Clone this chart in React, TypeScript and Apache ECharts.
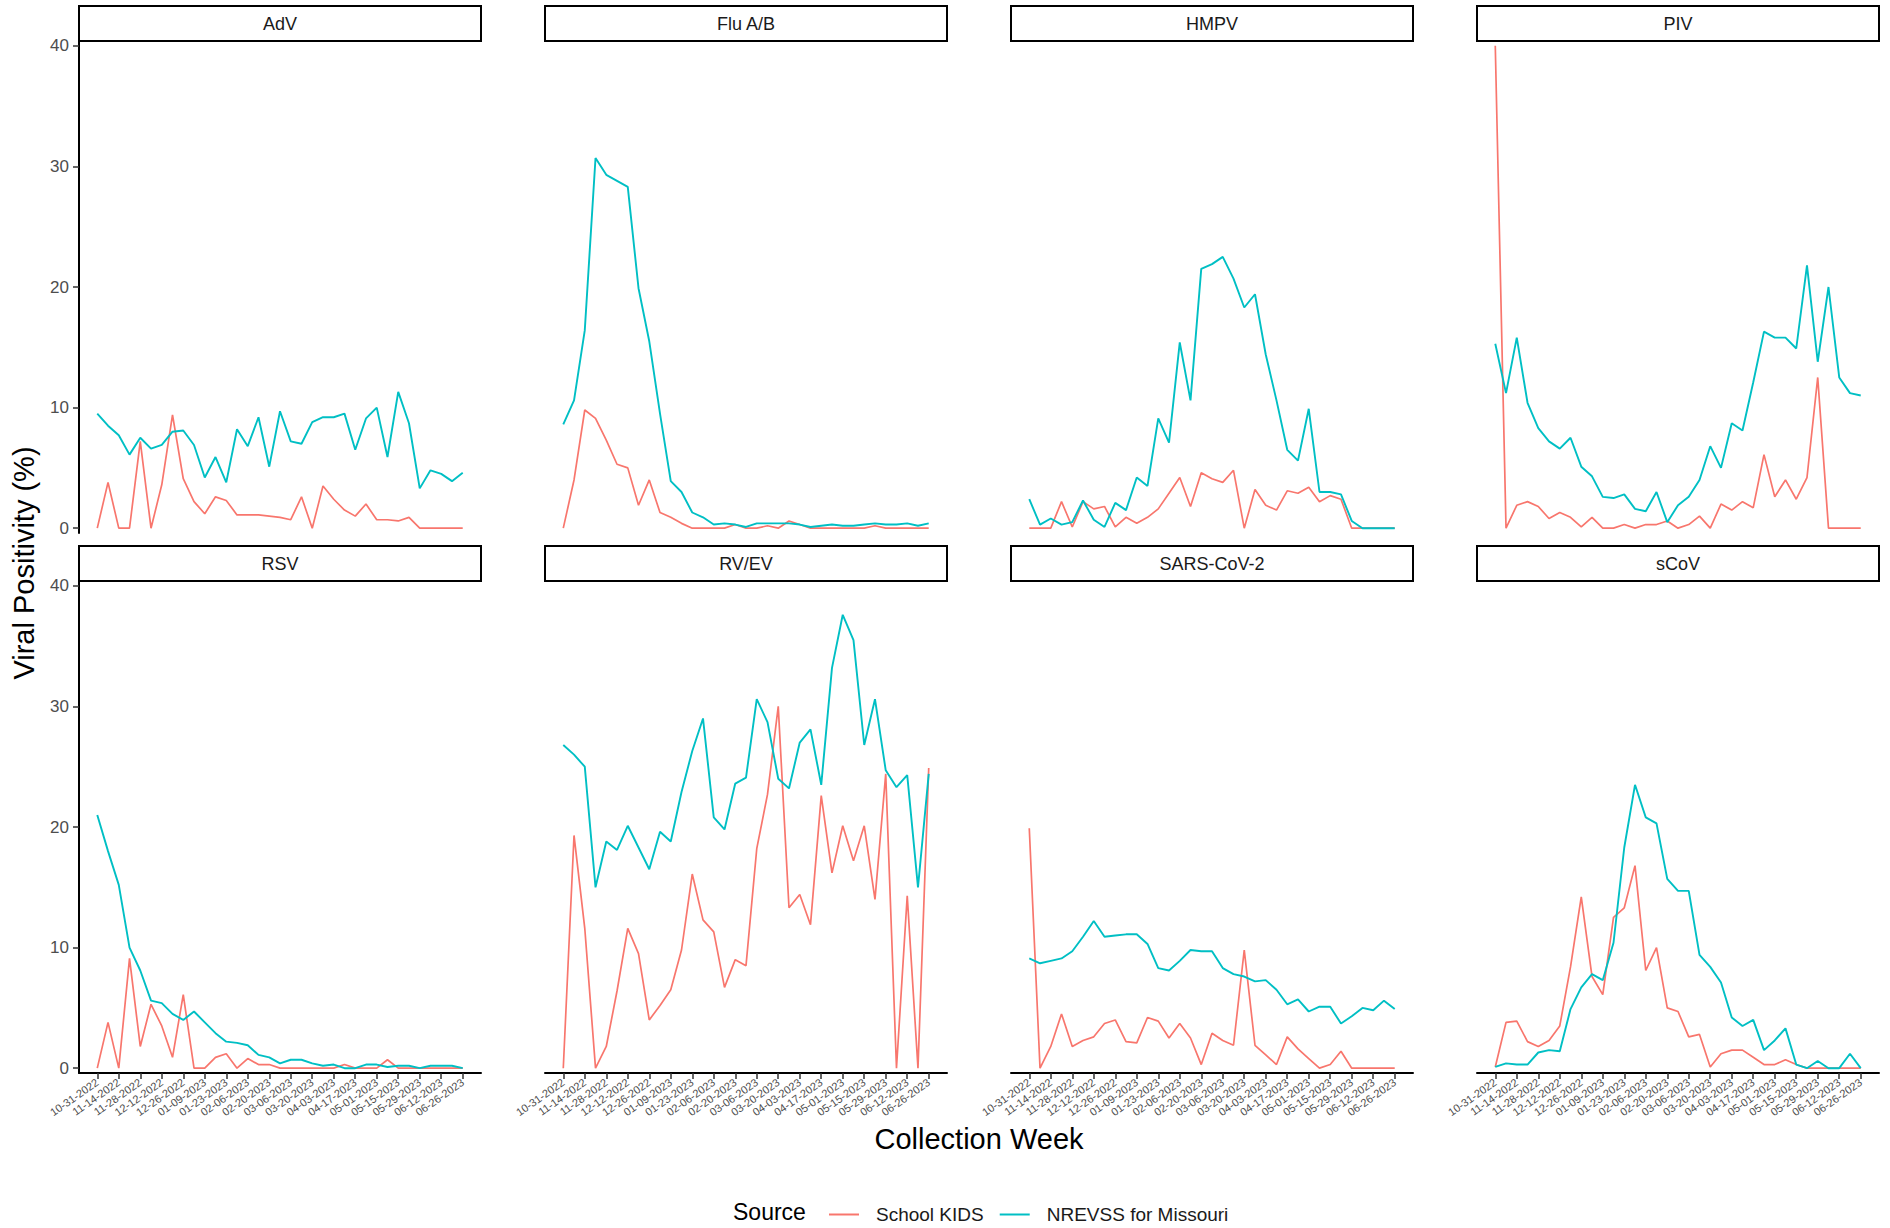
import React, { useEffect, useRef } from "react";
import * as echarts from "echarts";

const weeks = [
  "10-31-2022", "11-07-2022", "11-14-2022", "11-21-2022", "11-28-2022", "12-05-2022", "12-12-2022",
  "12-19-2022", "12-26-2022", "01-02-2023", "01-09-2023", "01-16-2023", "01-23-2023", "01-30-2023",
  "02-06-2023", "02-13-2023", "02-20-2023", "02-27-2023", "03-06-2023", "03-13-2023", "03-20-2023",
  "03-27-2023", "04-03-2023", "04-10-2023", "04-17-2023", "04-24-2023", "05-01-2023", "05-08-2023",
  "05-15-2023", "05-22-2023", "05-29-2023", "06-05-2023", "06-12-2023", "06-19-2023", "06-26-2023",
];
const tickIndex = [0, 2, 4, 6, 8, 10, 12, 14, 16, 18, 20, 22, 24, 26, 28, 30, 32, 34];
const yTicks = [0, 10, 20, 30, 40];

const viruses = ["AdV", "Flu A/B", "HMPV", "PIV", "RSV", "RV/EV", "SARS-CoV-2", "sCoV"];
const sourceNames = ["School KIDS", "NREVSS for Missouri"];

const kidsAdV = [0, 3.8, 0, 0, 7.2, 0, 3.6, 9.4, 4.1, 2.2, 1.2, 2.6, 2.3, 1.1, 1.1, 1.1, 1.0, 0.9, 0.7, 2.6, 0, 3.5, 2.4, 1.5, 1.0, 2.0, 0.7, 0.7, 0.6, 0.9, 0, 0, 0, 0, 0];
const nrevssAdV = [9.5, 8.5, 7.7, 6.1, 7.5, 6.6, 6.9, 8.0, 8.1, 6.9, 4.2, 5.9, 3.8, 8.2, 6.8, 9.2, 5.1, 9.7, 7.2, 7.0, 8.8, 9.2, 9.2, 9.5, 6.5, 9.1, 10.0, 5.9, 11.3, 8.7, 3.3, 4.8, 4.5, 3.9, 4.6];

const kidsFlu = [0, 4.0, 9.8, 9.1, 7.3, 5.3, 5.0, 1.9, 4.0, 1.3, 0.9, 0.4, 0, 0, 0, 0, 0.3, 0, 0, 0.2, 0, 0.6, 0.3, 0, 0, 0, 0, 0, 0, 0.2, 0, 0, 0, 0, 0];
const nrevssFlu = [8.6, 10.6, 16.4, 30.7, 29.3, 28.8, 28.3, 19.9, 15.5, 9.5, 3.9, 3.0, 1.3, 0.9, 0.3, 0.4, 0.3, 0.1, 0.4, 0.4, 0.4, 0.4, 0.3, 0.1, 0.2, 0.3, 0.2, 0.2, 0.3, 0.4, 0.3, 0.3, 0.4, 0.2, 0.4];

const kidsHMPV = [0, 0, 0, 2.2, 0.1, 2.2, 1.6, 1.8, 0.1, 0.9, 0.4, 0.9, 1.6, 2.9, 4.2, 1.8, 4.6, 4.1, 3.8, 4.8, 0, 3.2, 1.9, 1.5, 3.1, 2.9, 3.4, 2.2, 2.7, 2.4, 0, 0, 0, 0, 0];
const nrevssHMPV = [2.4, 0.3, 0.8, 0.3, 0.5, 2.3, 0.7, 0.1, 2.1, 1.5, 4.2, 3.5, 9.1, 7.1, 15.4, 10.6, 21.5, 21.9, 22.5, 20.7, 18.3, 19.4, 14.4, 10.6, 6.5, 5.6, 9.9, 3.0, 3.0, 2.8, 0.6, 0, 0, 0, 0];

const kidsPIV = [40, 0, 1.9, 2.2, 1.8, 0.8, 1.3, 0.9, 0.1, 0.9, 0, 0, 0.3, 0, 0.3, 0.3, 0.6, 0, 0.3, 1.0, 0, 2.0, 1.5, 2.2, 1.7, 6.1, 2.6, 4.0, 2.4, 4.2, 12.5, 0, 0, 0, 0];
const nrevssPIV = [15.3, 11.2, 15.8, 10.4, 8.3, 7.2, 6.6, 7.5, 5.1, 4.3, 2.6, 2.5, 2.8, 1.6, 1.4, 3.0, 0.5, 1.9, 2.6, 4.0, 6.8, 5.0, 8.7, 8.1, 12.1, 16.3, 15.8, 15.8, 14.9, 21.8, 13.8, 20.0, 12.5, 11.2, 11.0];

const kidsRSV = [0, 3.8, 0, 9.1, 1.8, 5.3, 3.5, 0.9, 6.1, 0, 0, 0.9, 1.2, 0, 0.8, 0.3, 0.3, 0, 0, 0, 0, 0, 0, 0.3, 0, 0, 0, 0.7, 0, 0, 0, 0, 0, 0, 0];
const nrevssRSV = [21.0, 18.0, 15.2, 10.0, 8.1, 5.6, 5.4, 4.5, 4.0, 4.7, 3.8, 2.9, 2.2, 2.1, 1.9, 1.1, 0.9, 0.4, 0.7, 0.7, 0.4, 0.2, 0.3, 0, 0, 0.3, 0.3, 0.1, 0.2, 0.2, 0, 0.2, 0.2, 0.2, 0];

const kidsRVEV = [0, 19.3, 11.6, 0, 1.8, 6.4, 11.6, 9.5, 4.0, 5.2, 6.5, 9.8, 16.1, 12.3, 11.3, 6.7, 9.0, 8.5, 18.2, 22.7, 30.0, 13.3, 14.4, 11.9, 22.6, 16.2, 20.1, 17.2, 20.1, 14.0, 24.4, 0, 14.3, 0, 24.9];
const nrevssRVEV = [26.8, 26.0, 25.0, 15.0, 18.8, 18.1, 20.1, 18.3, 16.5, 19.6, 18.8, 22.9, 26.3, 29.0, 20.8, 19.8, 23.6, 24.1, 30.6, 28.7, 24.0, 23.2, 27.0, 28.1, 23.5, 33.2, 37.6, 35.5, 26.8, 30.6, 24.7, 23.3, 24.3, 15.0, 24.4];

const kidsSARS = [19.9, 0, 1.8, 4.5, 1.8, 2.3, 2.6, 3.7, 4.0, 2.2, 2.1, 4.2, 3.9, 2.5, 3.7, 2.5, 0.3, 2.9, 2.3, 1.9, 9.8, 1.9, 1.1, 0.3, 2.6, 1.6, 0.8, 0, 0.3, 1.4, 0, 0, 0, 0, 0];
const nrevssSARS = [9.1, 8.7, 8.9, 9.1, 9.7, 10.9, 12.2, 10.9, 11.0, 11.1, 11.1, 10.3, 8.3, 8.1, 8.9, 9.8, 9.7, 9.7, 8.3, 7.8, 7.6, 7.2, 7.3, 6.5, 5.3, 5.7, 4.7, 5.1, 5.1, 3.7, 4.3, 5.0, 4.8, 5.6, 4.9];

const kidsSCoV = [0.1, 3.8, 3.9, 2.2, 1.8, 2.3, 3.5, 8.4, 14.2, 7.6, 6.1, 12.5, 13.3, 16.8, 8.1, 10.0, 5.0, 4.7, 2.6, 2.8, 0.1, 1.2, 1.5, 1.5, 0.9, 0.3, 0.3, 0.7, 0.3, 0, 0, 0, 0, 0, 0];
const nrevssSCoV = [0.1, 0.4, 0.3, 0.3, 1.3, 1.5, 1.4, 4.9, 6.7, 7.8, 7.3, 10.4, 18.3, 23.5, 20.8, 20.3, 15.7, 14.7, 14.7, 9.4, 8.4, 7.1, 4.2, 3.5, 4.0, 1.5, 2.3, 3.3, 0.3, 0, 0.6, 0, 0, 1.2, 0];

const kidsSeries = [kidsAdV, kidsFlu, kidsHMPV, kidsPIV, kidsRSV, kidsRVEV, kidsSARS, kidsSCoV];
const nrevssSeries = [nrevssAdV, nrevssFlu, nrevssHMPV, nrevssPIV, nrevssRSV, nrevssRVEV, nrevssSARS, nrevssSCoV];

const RED = "#F8766D";
const TEAL = "#00BFC4";
const FONT = "'Liberation Sans', Arial, Helvetica, sans-serif";

const colLeft = [79, 545, 1011, 1477];
const rowTop = [41, 581];
const panelW = 402;
const panelH = 492;
const stripH = 35;

function buildOption() {
  const grid: any[] = [];
  const xAxis: any[] = [];
  const yAxis: any[] = [];
  const series: any[] = [];
  const graphic: any[] = [];

  viruses.forEach((name, k) => {
    const row = Math.floor(k / 4);
    const col = k % 4;
    const left = colLeft[col];
    const top = rowTop[row];
    grid.push({ left, top, width: panelW, height: panelH, containLabel: false });
    const bottomRow = row === 1;
    xAxis.push({
      type: "value",
      gridIndex: k,
      min: -1.7,
      max: 35.7,
      splitLine: { show: false },
      axisLine: { show: bottomRow, onZero: false, lineStyle: { color: "#000", width: 2 } },
      axisTick: {
        show: bottomRow,
        customValues: tickIndex,
        length: 6,
        lineStyle: { color: "#333", width: 1.5 },
      },
      axisLabel: {
        show: bottomRow,
        customValues: tickIndex,
        rotate: 35,
        margin: 8,
        fontSize: 11,
        color: "#4D4D4D",
        fontFamily: FONT,
        formatter: (v: number) => weeks[Math.round(v)] ?? "",
      },
    });
    const leftCol = col === 0;
    yAxis.push({
      type: "value",
      gridIndex: k,
      min: -0.4,
      max: 40.4,
      splitLine: { show: false },
      axisLine: { show: leftCol, onZero: false, lineStyle: { color: "#000", width: 2 } },
      axisTick: {
        show: leftCol,
        customValues: yTicks,
        length: 6,
        lineStyle: { color: "#333", width: 1.5 },
      },
      axisLabel: {
        show: leftCol,
        customValues: yTicks,
        margin: 10,
        fontSize: 17,
        color: "#4D4D4D",
        fontFamily: FONT,
      },
    });
    series.push({
      type: "line",
      name: sourceNames[0],
      xAxisIndex: k,
      yAxisIndex: k,
      data: kidsSeries[k].map((v, i) => [i, v]),
      showSymbol: false,
      symbol: "none",
      lineStyle: { color: RED, width: 1.7 },
      itemStyle: { color: RED },
      z: 2,
    });
    series.push({
      type: "line",
      name: sourceNames[1],
      xAxisIndex: k,
      yAxisIndex: k,
      data: nrevssSeries[k].map((v, i) => [i, v]),
      showSymbol: false,
      symbol: "none",
      lineStyle: { color: TEAL, width: 1.9 },
      itemStyle: { color: TEAL },
      z: 3,
    });
    graphic.push({
      type: "rect",
      shape: { x: left, y: top - stripH, width: panelW, height: stripH },
      style: { fill: "#fff", stroke: "#000", lineWidth: 2 },
      z: 10,
    });
    graphic.push({
      type: "text",
      x: left + panelW / 2,
      y: top - stripH / 2,
      style: {
        text: name,
        fill: "#1A1A1A",
        font: `18px ${FONT}`,
        align: "center",
        verticalAlign: "middle",
      },
      z: 11,
    });
  });

  graphic.push({
    type: "text",
    x: 24,
    y: 563,
    rotation: Math.PI / 2,
    style: {
      text: "Viral Positivity (%)",
      fill: "#000",
      font: `29px ${FONT}`,
      align: "center",
      verticalAlign: "middle",
    },
  });
  graphic.push({
    type: "text",
    x: 979,
    y: 1139,
    style: {
      text: "Collection Week",
      fill: "#000",
      font: `29px ${FONT}`,
      align: "center",
      verticalAlign: "middle",
    },
  });
  graphic.push({
    type: "text",
    x: 733,
    y: 1212,
    style: {
      text: "Source",
      fill: "#000",
      font: `23px ${FONT}`,
      align: "left",
      verticalAlign: "middle",
    },
  });

  return {
    animation: false,
    backgroundColor: "#fff",
    grid,
    xAxis,
    yAxis,
    series,
    graphic,
    legend: {
      data: sourceNames,
      left: 824,
      top: 1200,
      icon: "rect",
      itemWidth: 30,
      itemHeight: 2,
      itemGap: 16,
      selectedMode: false,
      textStyle: { fontSize: 19, color: "#1A1A1A", fontFamily: FONT, padding: [0, 0, 0, 12] },
    },
  };
}

export default function App() {
  const ref = useRef<HTMLDivElement>(null);
  useEffect(() => {
    if (!ref.current) return;
    const chart = echarts.init(ref.current, null, { renderer: "svg" });
    chart.setOption(buildOption() as any);
    return () => chart.dispose();
  }, []);
  return (
    <div
      ref={ref}
      style={{ position: "absolute", left: 0, top: 0, width: 1890, height: 1228, background: "#fff" }}
    />
  );
}
